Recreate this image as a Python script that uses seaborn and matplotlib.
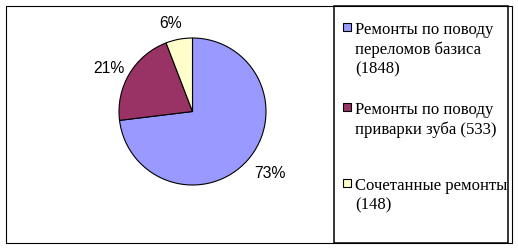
import matplotlib
matplotlib.use("Agg")
import matplotlib.pyplot as plt
import seaborn as sns
from matplotlib.patches import Rectangle

categories = ["Ремонты по поводу\nпереломов базиса\n(1848)",
              "Ремонты по поводу\nприварки зуба (533)",
              "Сочетанные ремонты\n(148)"]
values = [1848, 533, 148]
colors = ["#9999FF", "#993366", "#FFFFCC"]

sns.set_theme(style="white")
plt.rcParams['font.family'] = ['Liberation Sans', 'DejaVu Sans']

W, H = 518, 248
fig = plt.figure(figsize=(W / 100, H / 100), dpi=100)
fig.patch.set_facecolor("white")

def fx(x):
    return x / W

def fy(y):
    return 1 - y / H

# outer border
fig.patches.append(Rectangle((fx(5.5), fy(242.5)), fx(512) - fx(5.5), fy(5.5) - fy(242.5),
                             transform=fig.transFigure, fill=False, edgecolor="black", lw=0.8))
# legend box
fig.patches.append(Rectangle((fx(334), fy(242.5)), fx(507.5) - fx(334), fy(5.5) - fy(242.5),
                             transform=fig.transFigure, fill=False, edgecolor="black", lw=1.1))

cx, cy, r = 192.5, 111.5, 73.5
ax = fig.add_axes([fx(cx - r), fy(cy + r), 2 * r / W, 2 * r / H])
wedges, texts, autotexts = ax.pie(values, colors=colors, startangle=90, counterclock=False,
                                  autopct='%.0f%%', pctdistance=1.28,
                                  wedgeprops=dict(edgecolor="black", linewidth=0.8),
                                  textprops=dict(fontsize=11.3, color="black",
                                                 family=["Liberation Sans"]))
ax.set_xlim(-1, 1)
ax.set_ylim(-1, 1)
# small nudges of the outside labels, as in the reference
nudges = [(0.09, 0.0), (-0.04, -0.08), (-0.07, -0.06)]
for t, (dx, dy) in zip(autotexts, nudges):
    t.set_clip_on(False)
    x, y = t.get_position()
    t.set_position((x + dx, y + dy))

# legend
ys = [30, 110, 186]
for lab, col, y in zip(categories, colors, ys):
    fig.patches.append(Rectangle((fx(343), fy(y + 1)), fx(8), 8 / H,
                                 transform=fig.transFigure, facecolor=col, edgecolor="black", lw=0.8))
    fig.text(fx(355), fy(y - 8), lab, ha="left", va="top", fontsize=12,
             family=["Liberation Serif"], color="black", linespacing=1.3)

fig.savefig("out.png", dpi=100, facecolor="white")
